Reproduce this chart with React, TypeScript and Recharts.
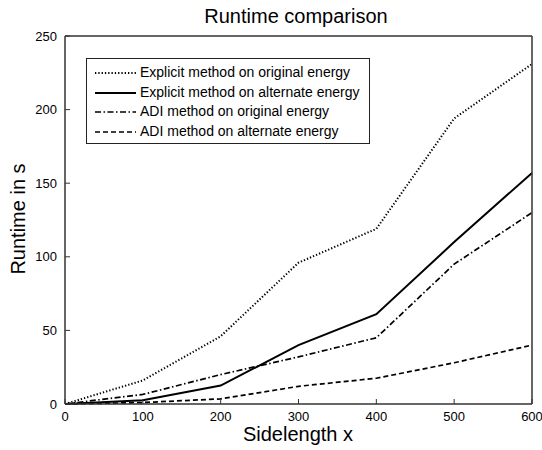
import React from "react";
import { LineChart, Line, XAxis, YAxis, Legend, Label } from "recharts";

const sidelengths = [0, 100, 200, 300, 400, 500, 600];
const explicitOriginal = [0, 16, 46, 96, 119, 194, 231];
const explicitAlternate = [0, 2.5, 12.5, 40, 61, 110, 157];
const adiOriginal = [0, 6.5, 20, 32, 45, 95, 130];
const adiAlternate = [0, 1, 3.5, 12, 17.5, 28, 40];

const xTicks = [0, 100, 200, 300, 400, 500, 600];
const yTicks = [0, 50, 100, 150, 200, 250];

const titleText = "Runtime comparison";
const xLabelText = "Sidelength x";
const yLabelText = "Runtime in s";

const series = [
  { key: "eo", name: "Explicit method on original energy", values: explicitOriginal, dash: "1.3 2", width: 2 },
  { key: "ea", name: "Explicit method on alternate energy", values: explicitAlternate, dash: undefined, width: 2 },
  { key: "ao", name: "ADI method on original energy", values: adiOriginal, dash: "6 2.5 1.5 2.5", width: 1.7 },
  { key: "aa", name: "ADI method on alternate energy", values: adiAlternate, dash: "5 3", width: 1.7 },
];

const data = sidelengths.map((x, i) => {
  const row: Record<string, number> = { x };
  series.forEach((s) => {
    row[s.key] = s.values[i];
  });
  return row;
});

const FONT = '"Liberation Sans", Arial, Helvetica, sans-serif';
const AXIS = "#333";

const tickStyle = { fill: "#000", fontSize: 13, fontFamily: FONT };

function LegendBox() {
  return (
    <div
      style={{
        boxSizing: "border-box",
        width: 284,
        height: 86,
        border: "1px solid #222",
        background: "#fff",
        paddingTop: 4,
        paddingLeft: 8,
        fontFamily: FONT,
        fontSize: 14,
        color: "#000",
      }}
    >
      {series.map((s) => (
        <div key={s.key} style={{ height: 19.7, display: "flex", alignItems: "center" }}>
          <svg width={41} height={10} style={{ display: "block" }}>
            <line x1={0} x2={41} y1={5} y2={5} stroke="#000" strokeWidth={s.width} strokeDasharray={s.dash} />
          </svg>
          <span style={{ marginLeft: 4, whiteSpace: "nowrap", lineHeight: "19.7px" }}>{s.name}</span>
        </div>
      ))}
    </div>
  );
}

export default function App() {
  return (
    <div style={{ position: "absolute", left: 0, top: 0, width: 542, height: 450, background: "#fff" }}>
      <LineChart width={542} height={450} data={data} margin={{ top: 35, right: 9, bottom: 0, left: 15 }}>
        <XAxis
          xAxisId="b"
          dataKey="x"
          type="number"
          domain={[0, 600]}
          ticks={xTicks}
          height={46}
          tickSize={-5}
          tickMargin={13}
          tick={tickStyle}
          stroke={AXIS}
          axisLine={{ stroke: AXIS, strokeWidth: 1.5 }}
          tickLine={{ stroke: AXIS }}
        >
          <Label
            content={() => (
              <text x={298} y={441} textAnchor="middle" fontFamily={FONT} fontSize={20} fill="#000">
                {xLabelText}
              </text>
            )}
          />
        </XAxis>
        <XAxis
          xAxisId="t"
          dataKey="x"
          type="number"
          orientation="top"
          domain={[0, 600]}
          ticks={xTicks}
          height={1}
          tickSize={-5}
          tick={false}
          axisLine={{ stroke: AXIS, strokeWidth: 1.5 }}
          tickLine={{ stroke: AXIS }}
        >
          <Label
            content={() => (
              <text x={296} y={23} textAnchor="middle" fontFamily={FONT} fontSize={20} fill="#000">
                {titleText}
              </text>
            )}
          />
        </XAxis>
        <YAxis
          yAxisId="l"
          type="number"
          domain={[0, 250]}
          ticks={yTicks}
          width={50}
          tickSize={-5}
          tickMargin={13}
          tick={tickStyle}
          axisLine={{ stroke: AXIS, strokeWidth: 1.5 }}
          tickLine={{ stroke: AXIS }}
        >
          <Label
            content={() => (
              <text
                x={18}
                y={219}
                transform="rotate(-90 18 219)"
                textAnchor="middle"
                dominantBaseline="central"
                fontFamily={FONT}
                fontSize={20}
                fill="#000"
              >
                {yLabelText}
              </text>
            )}
          />
        </YAxis>
        <YAxis
          yAxisId="r"
          type="number"
          orientation="right"
          domain={[0, 250]}
          ticks={yTicks}
          width={1}
          tickSize={-5}
          tick={false}
          axisLine={{ stroke: AXIS, strokeWidth: 1.5 }}
          tickLine={{ stroke: AXIS }}
        />
        <Legend
          layout="vertical"
          align="center"
          verticalAlign="middle"
          wrapperStyle={{ position: "absolute", left: 86, top: 58, width: 284, height: 86 }}
          content={() => <LegendBox />}
        />
        {series.map((s) => (
          <Line
            key={s.key}
            xAxisId="b"
            yAxisId="l"
            type="linear"
            dataKey={s.key}
            name={s.name}
            stroke="#000"
            strokeWidth={s.width}
            strokeDasharray={s.dash}
            dot={false}
            activeDot={false}
            isAnimationActive={false}
          />
        ))}
      </LineChart>
    </div>
  );
}
